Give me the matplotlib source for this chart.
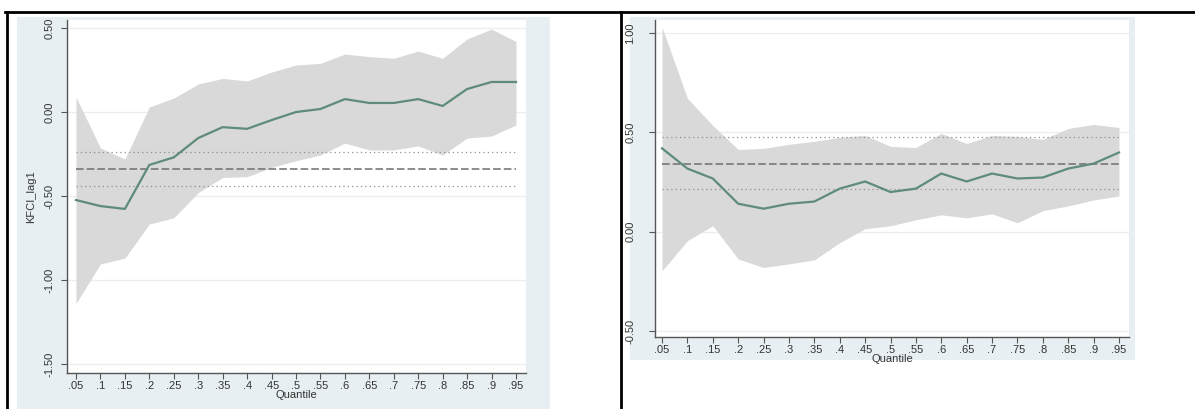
import matplotlib
matplotlib.use("Agg")
import matplotlib.pyplot as plt
from matplotlib.patches import Rectangle
from matplotlib.lines import Line2D

plt.rcParams['font.family'] = ['Liberation Sans', 'DejaVu Sans']

# Quantile grid shared by both panels
quantiles = [0.05, 0.10, 0.15, 0.20, 0.25, 0.30, 0.35, 0.40, 0.45, 0.50,
             0.55, 0.60, 0.65, 0.70, 0.75, 0.80, 0.85, 0.90, 0.95]
xtick_labels = [".05", ".1", ".15", ".2", ".25", ".3", ".35", ".4", ".45", ".5",
                ".55", ".6", ".65", ".7", ".75", ".8", ".85", ".9", ".95"]

# Left panel: KFCI_lag1 quantile coefficients and confidence band
coef_left = [-0.524, -0.560, -0.577, -0.315, -0.270, -0.155, -0.090, -0.100, -0.048, 0.000,
             0.018, 0.077, 0.054, 0.054, 0.077, 0.036, 0.137, 0.179, 0.179]
upper_left = [0.089, -0.214, -0.280, 0.030, 0.083, 0.167, 0.200, 0.185, 0.238, 0.280,
              0.290, 0.345, 0.330, 0.320, 0.363, 0.320, 0.435, 0.494, 0.420]
lower_left = [-1.140, -0.905, -0.870, -0.667, -0.630, -0.480, -0.390, -0.385, -0.330, -0.290,
              -0.256, -0.185, -0.226, -0.226, -0.202, -0.256, -0.155, -0.143, -0.077]
ols_left = -0.339
ols_ci_left = [-0.238, -0.440]
yticks_left = [0.5, 0.0, -0.5, -1.0, -1.5]
ytick_labels_left = ["0.50", "0.00", "-0.50", "-1.00", "-1.50"]

# Right panel: quantile coefficients and confidence band
coef_right = [0.420, 0.318, 0.268, 0.141, 0.116, 0.141, 0.152, 0.217, 0.253, 0.200,
              0.217, 0.293, 0.253, 0.293, 0.268, 0.273, 0.318, 0.343, 0.399]
upper_right = [1.030, 0.672, 0.535, 0.414, 0.420, 0.440, 0.455, 0.475, 0.485, 0.430,
               0.424, 0.495, 0.444, 0.485, 0.480, 0.465, 0.520, 0.540, 0.525]
lower_right = [-0.197, -0.045, 0.030, -0.137, -0.180, -0.162, -0.142, -0.055, 0.015, 0.030,
               0.060, 0.085, 0.070, 0.090, 0.045, 0.106, 0.130, 0.160, 0.180]
ols_right = 0.343
ols_ci_right = [0.475, 0.217]
yticks_right = [1.0, 0.5, 0.0, -0.5]
ytick_labels_right = ["1.00", "0.50", "0.00", "-0.50"]

W, H = 1195, 409
fig = plt.figure(figsize=(W / 100, H / 100), dpi=100)
fig.patch.set_facecolor("white")


def fx(px):
    return px / W


def fy(py):
    return 1 - py / H


REGION = "#E7EFF2"
BAND = "#D9D9D9"
LINE = "#5E8C78"
AXIS = "#555555"

# Graph-region backgrounds
fig.add_artist(Rectangle((fx(17), fy(409)), fx(550) - fx(17), (409 - 17) / H,
                         transform=fig.transFigure, facecolor=REGION, edgecolor="none", zorder=0))
fig.add_artist(Rectangle((fx(630), fy(360)), fx(1135) - fx(630), (360 - 17) / H,
                         transform=fig.transFigure, facecolor=REGION, edgecolor="none", zorder=0))

# Table borders
for xs, ys in [((fx(5), 1.0), (fy(12), fy(12))),
               ((fx(7), fx(7)), (fy(12), 0.0)),
               ((fx(621), fx(621)), (fy(12), 0.0))]:
    fig.add_artist(Line2D(xs, ys, transform=fig.transFigure, color="black", lw=2, zorder=5))


def panel(rect, coef, upper, lower, ols, ci, yticks, ylabels, ylim, xlim, ypad, ylabel=None):
    ax = fig.add_axes(rect)
    ax.set_facecolor("white")
    ax.fill_between(quantiles, lower, upper, color=BAND, lw=0, zorder=1)
    ax.plot(quantiles, coef, color=LINE, lw=1.6, zorder=3)
    ax.plot([quantiles[0], quantiles[-1]], [ols, ols], color="#6E6E6E", lw=1.1,
            linestyle=(0, (5, 2)), zorder=2)
    for c in ci:
        ax.plot([quantiles[0], quantiles[-1]], [c, c], color="#8F8F8F", lw=0.9,
                linestyle=(0, (1, 2.5)), zorder=2)
    ax.set_xlim(*xlim)
    ax.set_ylim(*ylim)
    ax.set_xticks(quantiles)
    ax.set_xticklabels(xtick_labels)
    ax.set_yticks(yticks)
    ax.set_yticklabels(ylabels, rotation=90, va="center")
    ax.yaxis.grid(True, color="#E8EFF2", lw=0.9)
    ax.set_axisbelow(True)
    for s in ["top", "right"]:
        ax.spines[s].set_visible(False)
    for s in ["left", "bottom"]:
        ax.spines[s].set_color(AXIS)
        ax.spines[s].set_linewidth(1.0)
    ax.tick_params(axis="both", direction="out", length=4, width=0.8, color=AXIS,
                   labelsize=8, labelcolor="#333333")
    ax.tick_params(axis="x", pad=2)
    ax.tick_params(axis="y", pad=ypad)
    ax.set_xlabel("Quantile", fontsize=8, color="#333333", labelpad=-1)
    if ylabel:
        ax.set_ylabel(ylabel, fontsize=8, color="#333333")
        ax.yaxis.set_label_coords(-0.068, 0.5)
    return ax


panel([fx(67), fy(373), fx(526) - fx(67), (373 - 20) / H],
      coef_left, upper_left, lower_left, ols_left, ols_ci_left,
      yticks_left, ytick_labels_left, (-1.554, 0.548), (0.0316, 0.9705), 5, "KFCI_lag1")

panel([fx(655), fy(337), fx(1129) - fx(655), (337 - 20) / H],
      coef_right, upper_right, lower_right, ols_right, ols_ci_right,
      yticks_right, ytick_labels_right, (-0.53, 1.066), (0.0362, 0.9697), 10)

fig.savefig("out.png", dpi=100, facecolor="white")
